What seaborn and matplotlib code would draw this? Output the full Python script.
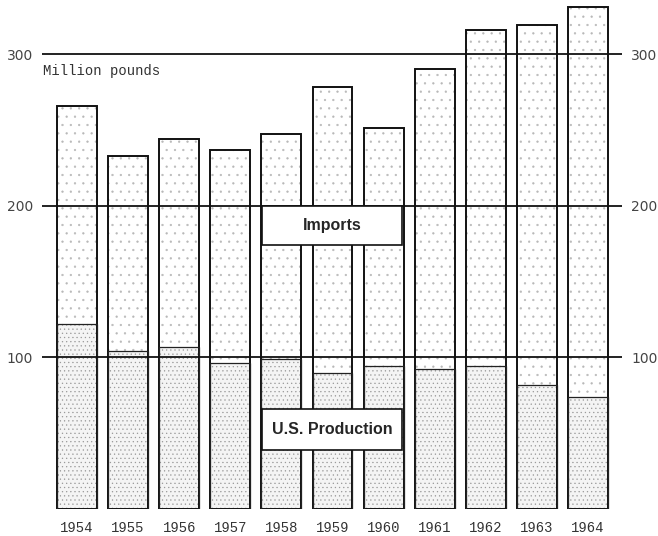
import pandas as pd
import matplotlib
matplotlib.use('Agg')
import matplotlib.pyplot as plt
from matplotlib.patches import Rectangle
import seaborn as sns

# dados (milhoes de libras)
anos = ['1954', '1955', '1956', '1957', '1958', '1959', '1960', '1961', '1962', '1963', '1964']
producao = [122, 104, 107, 96, 99, 90, 94, 92, 94, 82, 74]
importacoes = [144, 129, 137, 141, 148, 188, 157, 198, 222, 237, 257]
marcas_y = [100, 200, 300]

df = pd.DataFrame({'Ano': anos, 'Producao': producao, 'Importacoes': importacoes})
df['Total'] = df['Producao'] + df['Importacoes']

sns.set_style('white')
plt.rcParams['hatch.linewidth'] = 0.4

fig = plt.figure(figsize=(6.58, 5.36), dpi=100)
ax = fig.add_axes([42 / 658, 27 / 536, 580 / 658, 508 / 536])

# camada pontilhada (importacoes = total, producao por cima)
sns.barplot(data=df, x='Ano', y='Total', color='white', edgecolor='0.72', linewidth=0,
            hatch='..', width=0.78, errorbar=None, ax=ax, zorder=2)
sns.barplot(data=df, x='Ano', y='Producao', color='#f4f4f4', edgecolor='0.6', linewidth=0,
            hatch='....', width=0.78, errorbar=None, ax=ax, zorder=3)
# contornos
sns.barplot(data=df, x='Ano', y='Total', color='#111111', fill=False, linewidth=1.4,
            width=0.78, errorbar=None, ax=ax, zorder=4)
sns.barplot(data=df, x='Ano', y='Producao', color='#222222', fill=False, linewidth=0.9,
            width=0.78, errorbar=None, ax=ax, zorder=4)

for v in marcas_y:
    ax.axhline(v, color='#111111', lw=1.3, zorder=5)

ax.set_xlim(-0.685, 10.665)
ax.set_ylim(0, 335)
ax.set_yticks(marcas_y)
ax.set_xlabel('')
ax.set_ylabel('')
for s in ax.spines.values():
    s.set_visible(False)
ax.tick_params(axis='y', length=0, pad=6.5, labelleft=True, labelright=True,
               labelsize=10, labelcolor='#444444')
ax.tick_params(axis='x', length=0, pad=9, labelsize=10, labelcolor='#333333')
for t in ax.get_xticklabels():
    t.set_fontfamily('Liberation Mono')

ax.text(-0.66, 289, 'Million pounds', family='Liberation Mono', fontsize=10,
        color='#333333', va='center', ha='left', zorder=6)

# caixas de legenda
ax.add_patch(Rectangle((3.62, 174), 2.74, 26, facecolor='white', edgecolor='#111111', lw=1.2, zorder=6))
ax.add_patch(Rectangle((3.62, 39), 2.74, 27, facecolor='white', edgecolor='#111111', lw=1.2, zorder=6))
ax.text(5, 187, 'Imports', family='Liberation Sans', weight='bold', fontsize=11.5,
        ha='center', va='center', zorder=7)
ax.text(5, 52.5, 'U.S. Production', family='Liberation Sans', weight='bold', fontsize=11.5,
        ha='center', va='center', zorder=7)

plt.savefig('out.png', dpi=100)
